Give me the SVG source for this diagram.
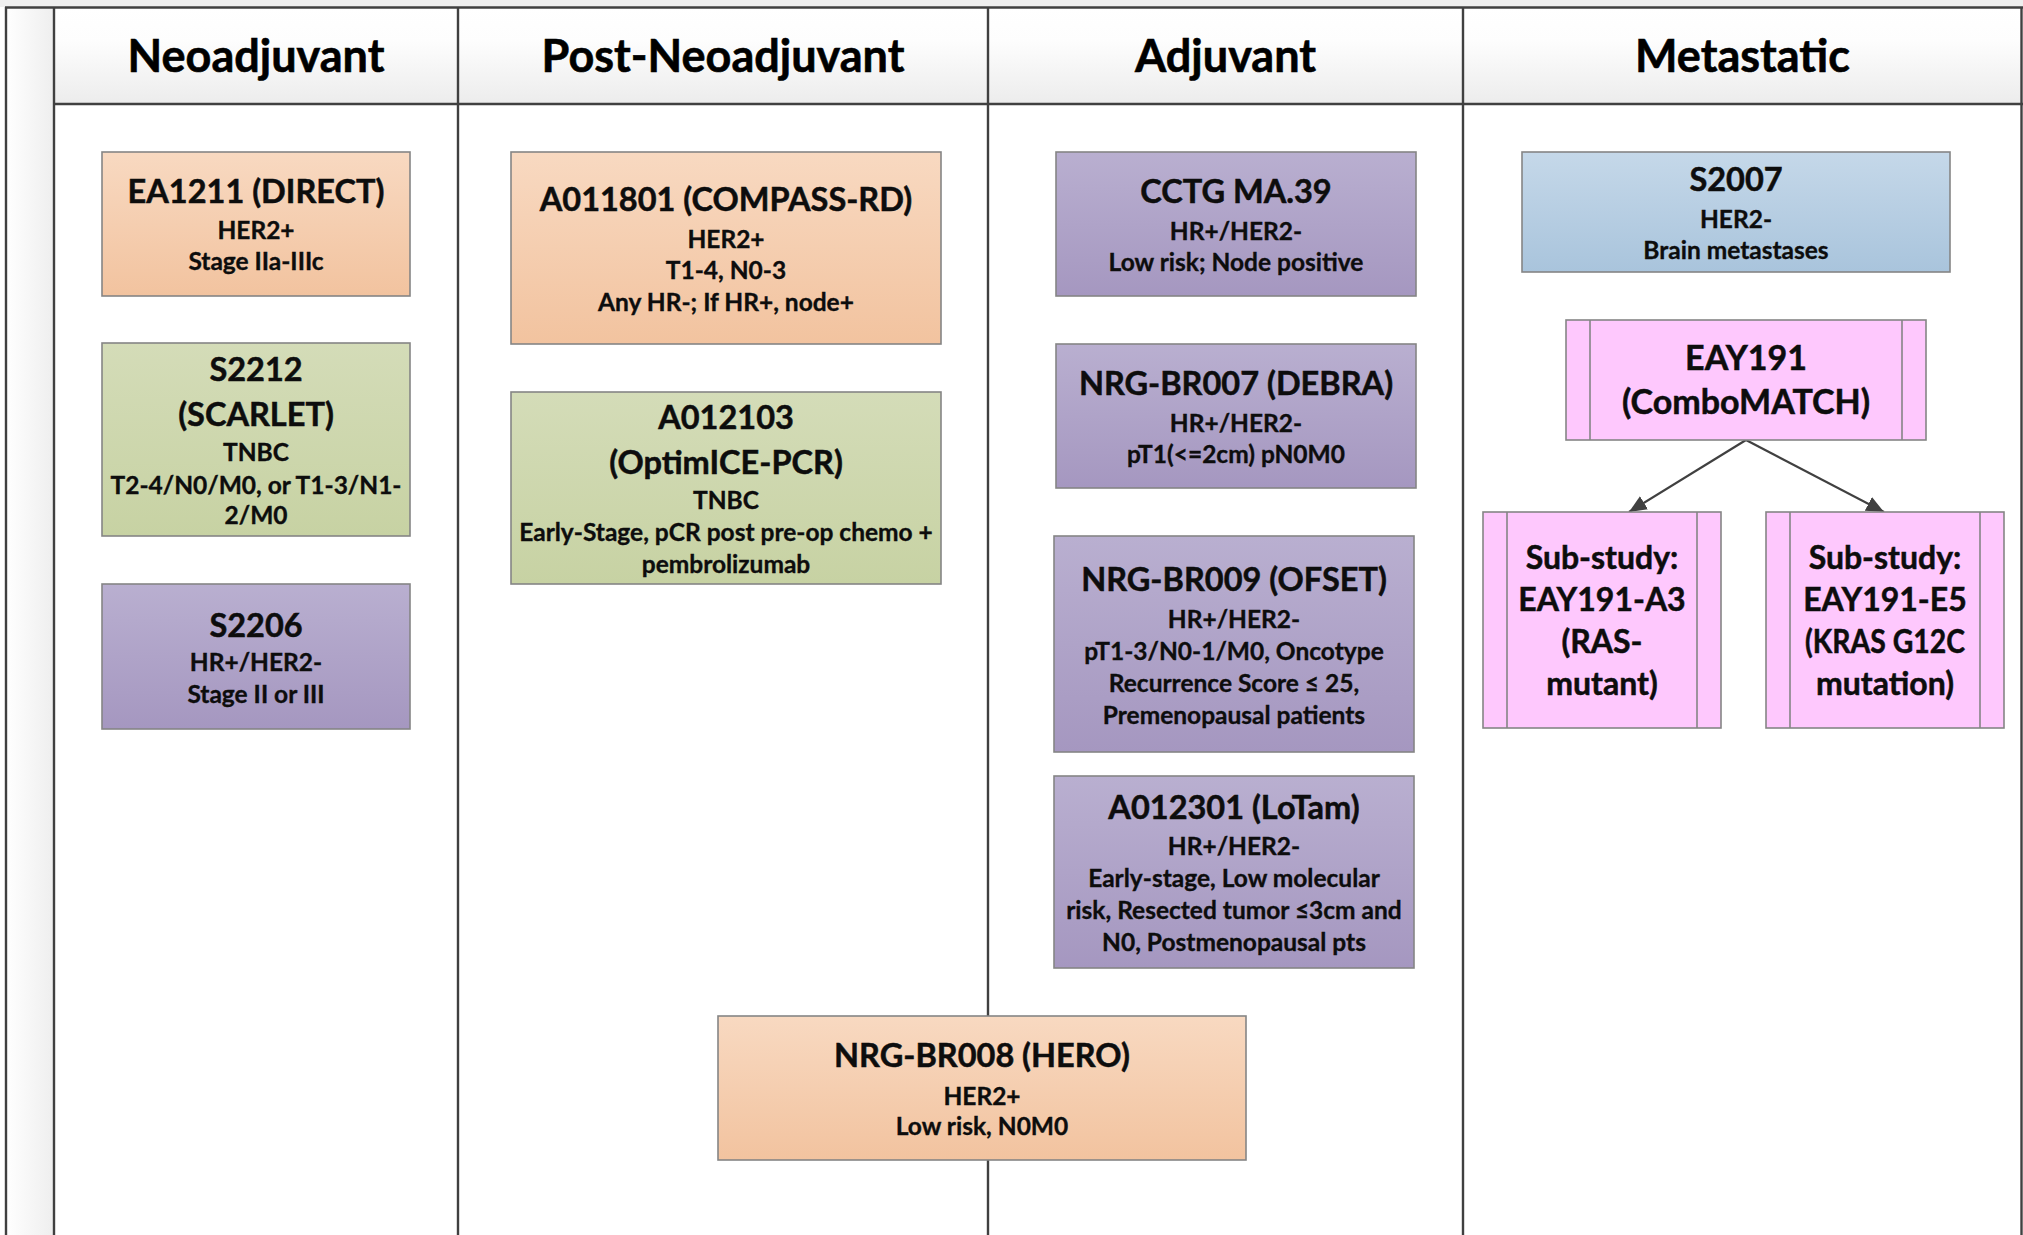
<svg xmlns="http://www.w3.org/2000/svg" width="2023" height="1235" viewBox="0 0 2023 1235">
<defs>
<linearGradient id="gOrange" x1="0" y1="0" x2="0" y2="1"><stop offset="0" stop-color="#f8d9c1"/><stop offset="1" stop-color="#f2c39f"/></linearGradient>
<linearGradient id="gGreen" x1="0" y1="0" x2="0" y2="1"><stop offset="0" stop-color="#d4dcb8"/><stop offset="1" stop-color="#c7d2a3"/></linearGradient>
<linearGradient id="gPurple" x1="0" y1="0" x2="0" y2="1"><stop offset="0" stop-color="#b9afd0"/><stop offset="1" stop-color="#a597c0"/></linearGradient>
<linearGradient id="gBlue" x1="0" y1="0" x2="0" y2="1"><stop offset="0" stop-color="#c5d8e9"/><stop offset="1" stop-color="#a9c4dc"/></linearGradient>
<linearGradient id="gHead" x1="0" y1="0" x2="0" y2="1"><stop offset="0" stop-color="#ffffff"/><stop offset="0.35" stop-color="#fdfdfd"/><stop offset="1" stop-color="#ececec"/></linearGradient>
<linearGradient id="gStrip" x1="0" y1="0" x2="1" y2="0"><stop offset="0" stop-color="#ffffff"/><stop offset="1" stop-color="#eeeeee"/></linearGradient>
<marker id="arrow" viewBox="0 0 10 10" refX="10" refY="5" markerWidth="8" markerHeight="7" markerUnits="strokeWidth" orient="auto" preserveAspectRatio="none">
<path d="M0,0 L10,5 L0,10 Z" fill="#404040"/>
</marker>
<style>
.grid{stroke:#404040;stroke-width:2.4;fill:none}
.box{stroke:#858585;stroke-width:1.6}
.pink{fill:#fec8fd;stroke:#858585;stroke-width:1.6}
.div{stroke:#858585;stroke-width:1.6}
text{font-family:Lato,"Open Sans","Liberation Sans",sans-serif;font-weight:bold;fill:#0d0d0d;text-anchor:middle;stroke:#0d0d0d;stroke-width:0.35}
.h{font-size:45px;fill:#000;stroke:#000;stroke-width:0.6}
.t{font-size:32.5px;stroke-width:0.5}
.s{font-size:24.5px}
.ss{font-size:32px;stroke-width:0.5}
.conn{stroke:#404040;stroke-width:2.2;fill:none}
</style>
</defs>
<rect x="0" y="0" width="2023" height="1235" fill="#ffffff"/>
<rect x="0" y="0" width="2023" height="7" fill="#efefef"/>
<g id="frame">
<rect x="6" y="8" width="48" height="1230" fill="url(#gStrip)"/>
<rect x="54" y="8" width="1968" height="96" fill="url(#gHead)"/>
<line class="grid" x1="5" y1="7.5" x2="2023" y2="7.5"/>
<line class="grid" x1="6" y1="7" x2="6" y2="1235"/>
<line class="grid" x1="54" y1="7" x2="54" y2="1235"/>
<line class="grid" x1="458" y1="7" x2="458" y2="1235"/>
<line class="grid" x1="988" y1="7" x2="988" y2="1235"/>
<line class="grid" x1="1463" y1="7" x2="1463" y2="1235"/>
<line class="grid" x1="2021.5" y1="7" x2="2021.5" y2="1235"/>
<line class="grid" x1="54" y1="104" x2="2023" y2="104"/>
</g>
<g id="headers">
<text class="h" x="256" y="72">Neoadjuvant</text>
<text class="h" x="723" y="72">Post-Neoadjuvant</text>
<text class="h" x="1225.5" y="72">Adjuvant</text>
<text class="h" x="1742.5" y="72">Metastatic</text>
</g>
<g id="connectors">
<line class="conn" x1="1746" y1="440" x2="1629" y2="512" marker-end="url(#arrow)"/>
<line class="conn" x1="1746" y1="440" x2="1884" y2="512" marker-end="url(#arrow)"/>
</g>
<g id="EA1211">
<rect class="box" x="102" y="152" width="308" height="144" fill="url(#gOrange)"/>
<text class="t" x="256" y="203">EA1211 (DIRECT)</text>
<text class="s" x="256" y="239">HER2+</text>
<text class="s" x="256" y="270">Stage IIa-IIIc</text>
</g>
<g id="S2212">
<rect class="box" x="102" y="343" width="308" height="193" fill="url(#gGreen)"/>
<text class="t" x="256" y="380.6">S2212</text>
<text class="t" x="256" y="425.6">(SCARLET)</text>
<text class="s" x="256" y="461">TNBC</text>
<text class="s" x="256" y="493.6">T2-4/N0/M0, or T1-3/N1-</text>
<text class="s" x="256" y="523.6">2/M0</text>
</g>
<g id="S2206">
<rect class="box" x="102" y="584" width="308" height="145" fill="url(#gPurple)"/>
<text class="t" x="256" y="637">S2206</text>
<text class="s" x="256" y="671">HR+/HER2-</text>
<text class="s" x="256" y="702.6">Stage II or III</text>
</g>
<g id="A011801">
<rect class="box" x="511" y="152" width="430" height="192" fill="url(#gOrange)"/>
<text class="t" x="726" y="211">A011801 (COMPASS-RD)</text>
<text class="s" x="726" y="247.6">HER2+</text>
<text class="s" x="726" y="279">T1-4, N0-3</text>
<text class="s" x="726" y="311">Any HR-; If HR+, node+</text>
</g>
<g id="A012103">
<rect class="box" x="511" y="392" width="430" height="192" fill="url(#gGreen)"/>
<text class="t" x="726" y="429">A012103</text>
<text class="t" x="726" y="474">(OptimICE-PCR)</text>
<text class="s" x="726" y="509">TNBC</text>
<text class="s" x="726" y="541">Early-Stage, pCR post pre-op chemo +</text>
<text class="s" x="726" y="573">pembrolizumab</text>
</g>
<g id="CCTG_MA39">
<rect class="box" x="1056" y="152" width="360" height="144" fill="url(#gPurple)"/>
<text class="t" x="1236" y="203">CCTG MA.39</text>
<text class="s" x="1236" y="240">HR+/HER2-</text>
<text class="s" x="1236" y="271">Low risk; Node positive</text>
</g>
<g id="NRG-BR007">
<rect class="box" x="1056" y="344" width="360" height="144" fill="url(#gPurple)"/>
<text class="t" x="1236" y="394.6">NRG-BR007 (DEBRA)</text>
<text class="s" x="1236" y="432">HR+/HER2-</text>
<text class="s" x="1236" y="463">pT1(&lt;=2cm) pN0M0</text>
</g>
<g id="NRG-BR009">
<rect class="box" x="1054" y="536" width="360" height="216" fill="url(#gPurple)"/>
<text class="t" x="1234" y="590.6">NRG-BR009 (OFSET)</text>
<text class="s" x="1234" y="628">HR+/HER2-</text>
<text class="s" x="1234" y="660">pT1-3/N0-1/M0, Oncotype</text>
<text class="s" x="1234" y="691.6">Recurrence Score ≤ 25,</text>
<text class="s" x="1234" y="723.6">Premenopausal patients</text>
</g>
<g id="A012301">
<rect class="box" x="1054" y="776" width="360" height="192" fill="url(#gPurple)"/>
<text class="t" x="1234" y="818.6">A012301 (LoTam)</text>
<text class="s" x="1234" y="855">HR+/HER2-</text>
<text class="s" x="1234" y="887">Early-stage, Low molecular</text>
<text class="s" x="1234" y="919">risk, Resected tumor ≤3cm and</text>
<text class="s" x="1234" y="951">N0, Postmenopausal pts</text>
</g>
<g id="NRG-BR008">
<rect class="box" x="718" y="1016" width="528" height="144" fill="url(#gOrange)"/>
<text class="t" x="982" y="1066.6">NRG-BR008 (HERO)</text>
<text class="s" x="982" y="1105">HER2+</text>
<text class="s" x="982" y="1135">Low risk, N0M0</text>
</g>
<g id="S2007">
<rect class="box" x="1522" y="152" width="428" height="120" fill="url(#gBlue)"/>
<text class="t" x="1736" y="190.6">S2007</text>
<text class="s" x="1736" y="228">HER2-</text>
<text class="s" x="1736" y="259">Brain metastases</text>
</g>
<g id="EAY191">
<rect class="pink" x="1566" y="320" width="360" height="120"/>
<line class="div" x1="1590" y1="320" x2="1590" y2="440"/>
<line class="div" x1="1902" y1="320" x2="1902" y2="440"/>
<text class="ss" x="1746" y="369.6" style="font-size:34px">EAY191</text>
<text class="ss" x="1746" y="414" style="font-size:34px">(ComboMATCH)</text>
</g>
<g id="EAY191-A3">
<rect class="pink" x="1483" y="512" width="238" height="216"/>
<line class="div" x1="1507" y1="512" x2="1507" y2="728"/>
<line class="div" x1="1697" y1="512" x2="1697" y2="728"/>
<text class="ss" x="1602" y="569">Sub-study:</text>
<text class="ss" x="1602" y="611">EAY191-A3</text>
<text class="ss" x="1602" y="653">(RAS-</text>
<text class="ss" x="1602" y="695">mutant)</text>
</g>
<g id="EAY191-E5">
<rect class="pink" x="1766" y="512" width="238" height="216"/>
<line class="div" x1="1790" y1="512" x2="1790" y2="728"/>
<line class="div" x1="1980" y1="512" x2="1980" y2="728"/>
<text class="ss" x="1885" y="569">Sub-study:</text>
<text class="ss" x="1885" y="611">EAY191-E5</text>
<text class="ss" x="1885" y="653" textLength="160" lengthAdjust="spacingAndGlyphs">(KRAS G12C</text>
<text class="ss" x="1885" y="695">mutation)</text>
</g>
</svg>
